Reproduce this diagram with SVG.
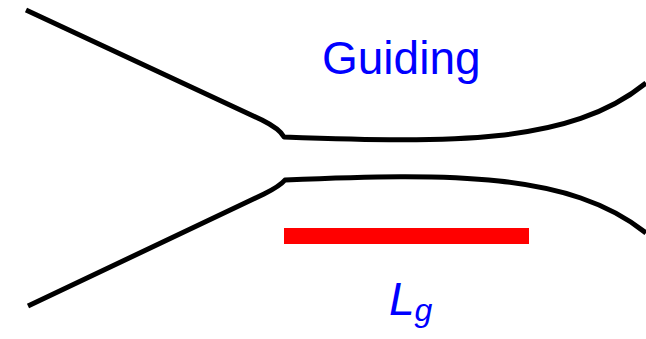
<svg xmlns="http://www.w3.org/2000/svg" width="646" height="339" viewBox="0 0 646 339">
<style>
.wall{fill:none;stroke:#000;stroke-width:5;stroke-linecap:butt;stroke-linejoin:round}
.lbl{font-family:"Liberation Sans",Arial,sans-serif;fill:#0000ff}
</style>
<rect width="646" height="339" fill="#fff"/>
<g id="connectors">
<path id="upper" class="wall" d="M26,10 L262,120 Q280,129 284,137 C450,143 570,145 646,83"/>
<path id="lower" class="wall" d="M28,306 L264,194 Q280,186 285,180 C450,173 570,172 646,233"/>
</g>
<g id="bar"><rect x="284" y="228" width="245" height="16" fill="#ff0000"/></g>
<g id="guiding"><text class="lbl" x="322" y="74" font-size="46">Guiding</text></g>
<g id="lg"><text class="lbl" x="389" y="315" font-size="46" font-style="italic">L<tspan font-size="32" dy="6">g</tspan></text></g>
</svg>
